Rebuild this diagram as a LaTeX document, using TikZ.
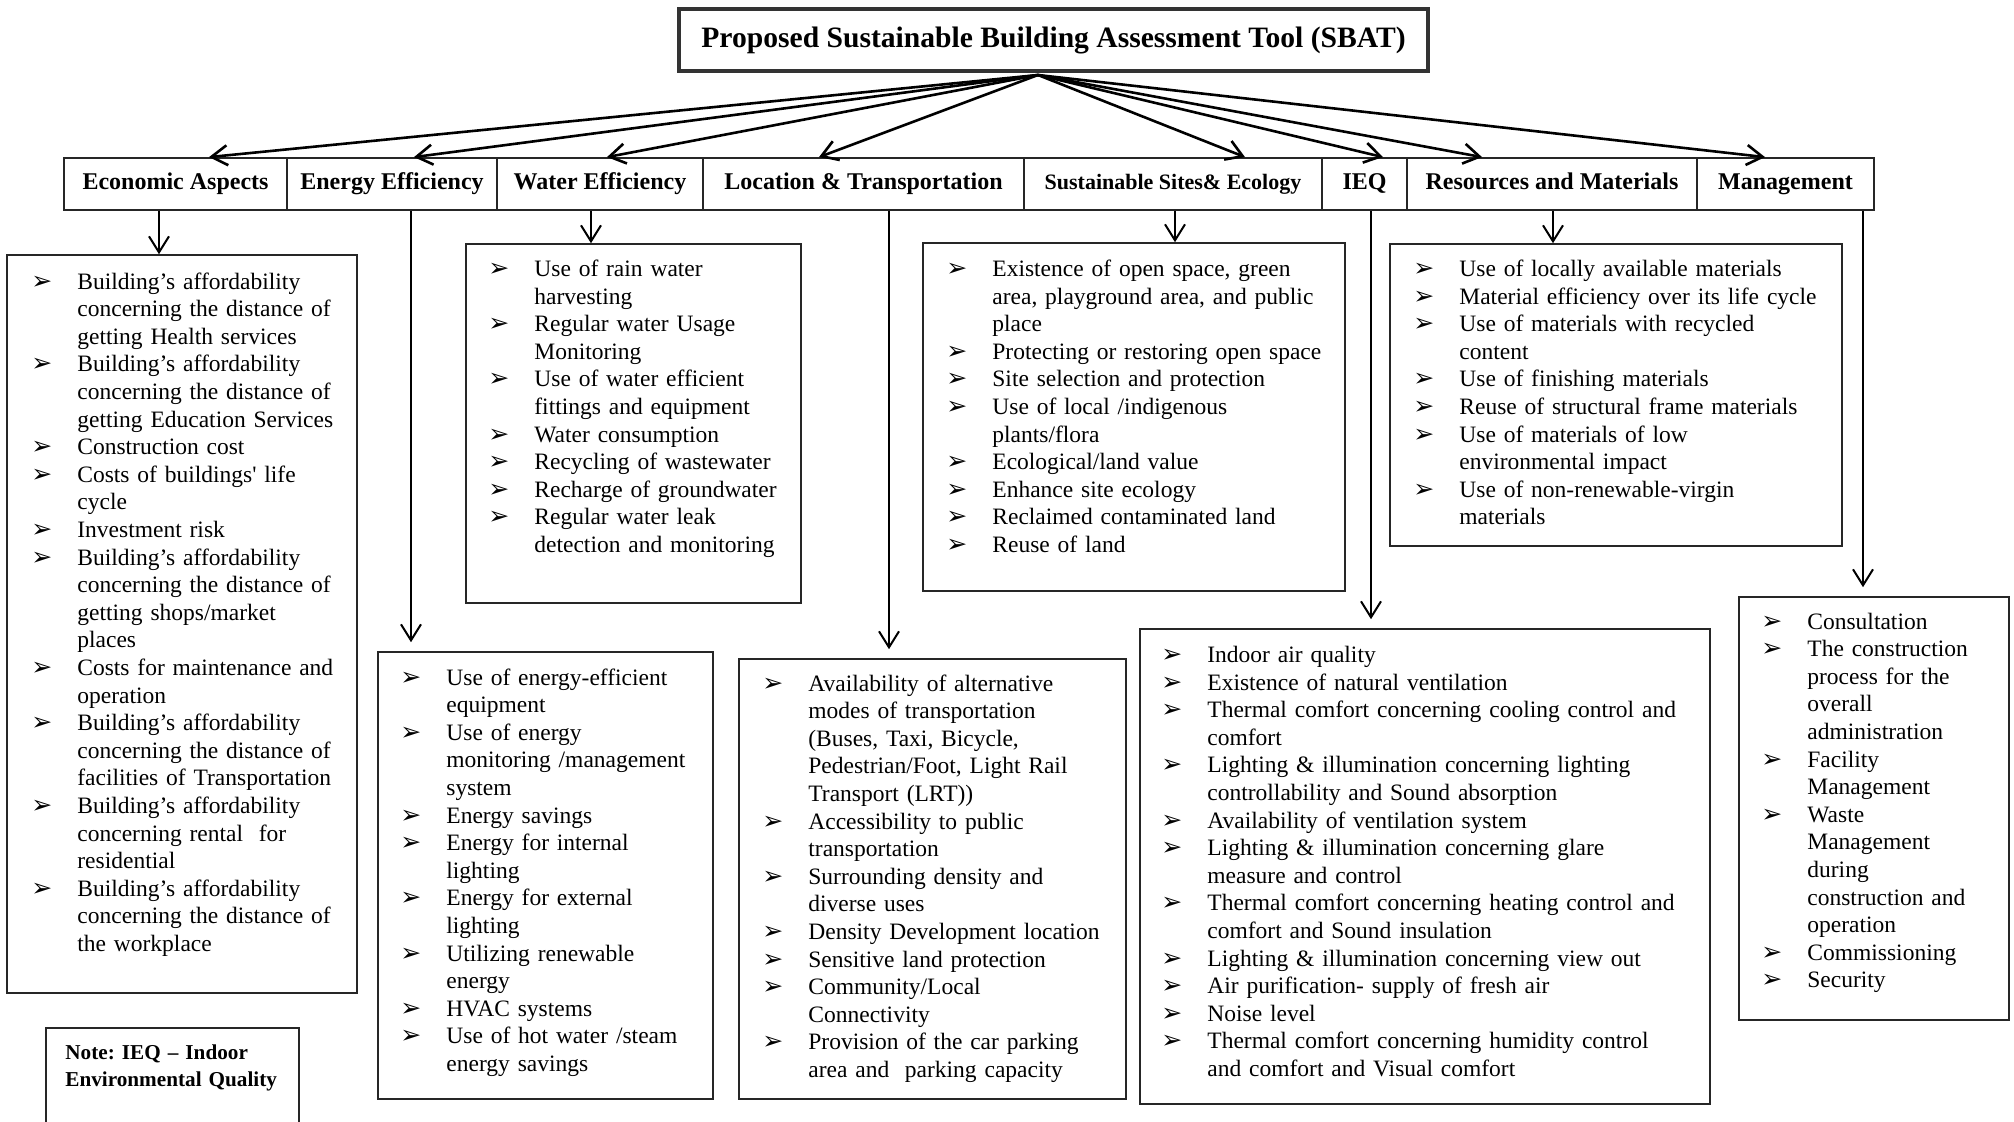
\documentclass[tikz,border=0pt]{standalone}
\usepackage{fontspec}
\setmainfont{Liberation Serif}
\newfontfamily\bulfont{DejaVu Sans}
\usetikzlibrary{arrows.meta,fit}
\frenchspacing

% bullet list helpers: arrowhead bullet with hanging indent
\newlength\itind
\setlength\itind{23pt}
\newcommand\bul{{\bulfont\fontsize{12.5}{12}\selectfont ➢}}
\newcommand\itm[1]{\par\noindent\hangindent=\itind\hangafter=1\makebox[\itind][l]{\bul}\strut#1}

\begin{document}
\begin{tikzpicture}[x=0.5pt,y=-0.5pt,
  hdr/.style={draw=black!85,line width=0.9pt,inner sep=0pt,minimum height=26pt,
    font=\fontsize{12}{13.8}\selectfont\bfseries},
  lbox/.style={draw=black!85,line width=0.8pt,inner sep=0pt},
  ltxt/.style={anchor=north west,inner sep=0pt,text width=300pt,align=left,
    font=\fontsize{11.75}{13.8}\selectfont},
  toparr/.style={line width=1.3pt,-{Straight Barb[length=8pt,width=10pt]}},
  downarr/.style={line width=1pt,-{Straight Barb[length=8pt,width=10pt]}},
  longarr/.style={downarr,shorten >=4.5pt},
]
\useasboundingbox (0,0) rectangle (2014,1121);
\clip (0,0) rectangle (2014,1121);

% title
\node[draw=black!80,line width=2.2pt,minimum width=374.5pt,minimum height=31pt,inner sep=0pt,
  font=\fontsize{14.8}{16}\selectfont\bfseries] (title) at (1053.5,40)
  {Proposed Sustainable Building Assessment Tool (SBAT)};

% category headers
\node[hdr,minimum width=111.5pt] (econH) at (175.5,184) {\strut Economic Aspects};
\node[hdr,minimum width=105pt] (enerH) at (392,184) {\strut Energy Efficiency};
\node[hdr,minimum width=103pt] (waterH) at (600,184) {\strut Water Efficiency};
\node[hdr,minimum width=160.5pt] (locH) at (863.5,184) {\strut Location \& Transportation};
\node[hdr,minimum width=149pt,font=\fontsize{11}{13.8}\selectfont\bfseries] (ssH) at (1173,184) {\strut Sustainable Sites\& Ecology};
\node[hdr,minimum width=42.5pt] (ieqH) at (1364.5,184) {\strut IEQ};
\node[hdr,minimum width=145pt] (resH) at (1552,184) {\strut Resources and Materials};
\node[hdr,minimum width=88.5pt] (mgmtH) at (1785.5,184) {\strut Management};

% criteria boxes
\node[lbox,fit={(7,255) (357,993)}] (econL) {};
\node[lbox,fit={(466,244) (801,603)}] (waterL) {};
\node[lbox,fit={(923,243) (1345,591)}] (ssL) {};
\node[lbox,fit={(1390,244) (1842,546)}] (resL) {};
\node[lbox,fit={(378,652) (713,1099)}] (enerL) {};
\node[lbox,fit={(739,659) (1126,1099)}] (locL) {};
\node[lbox,fit={(1140,629) (1710,1104)}] (ieqL) {};
\node[lbox,fit={(1739,597) (2009,1020)}] (mgmtL) {};
\node[lbox,fit={(46,1028) (299,1160)}] (note) {};

% arrows from the title
\coordinate (apex) at (1038,75);
\draw[toparr] (apex) -- ([xshift=16.75pt]econH.north);
\draw[toparr] (apex) -- ([xshift=11pt]enerH.north);
\draw[toparr] (apex) -- ([xshift=3.5pt]waterH.north);
\draw[toparr] (apex) -- ([xshift=-22.25pt]locH.north);
\draw[toparr] (apex) -- ([xshift=36pt]ssH.north);
\draw[toparr] (apex) -- ([xshift=9.25pt]ieqH.north);
\draw[toparr] (apex) -- ([xshift=-35pt]resH.north);
\draw[toparr] (apex) -- ([xshift=-10.25pt]mgmtH.north);

% arrows from headers to their criteria
\coordinate (xe) at (159,0);
\coordinate (xn) at (411,0);
\coordinate (xw) at (591,0);
\coordinate (xl) at (889,0);
\coordinate (xs) at (1175,0);
\coordinate (xi) at (1371,0);
\coordinate (xr) at (1553,0);
\coordinate (xm) at (1863,0);
\draw[downarr] (econH.south -| xe) -- (econL.north -| xe);
\draw[longarr] (enerH.south -| xn) -- (enerL.north -| xn);
\draw[downarr] (waterH.south -| xw) -- (waterL.north -| xw);
\draw[longarr] (locH.south -| xl) -- (locL.north -| xl);
\draw[downarr] (ssH.south -| xs) -- (ssL.north -| xs);
\draw[longarr] (ieqH.south -| xi) -- (ieqL.north -| xi);
\draw[downarr] (resH.south -| xr) -- (resL.north -| xr);
\draw[longarr] (mgmtH.south -| xm) -- (mgmtL.north -| xm);

% criteria texts
\node[ltxt] (econT) at (31,261) {%
\itm{Building’s affordability\newline concerning the distance of\newline getting Health services}
\itm{Building’s affordability\newline concerning the distance of\newline getting Education Services}
\itm{Construction cost}
\itm{Costs of buildings\textquotesingle{} life\newline cycle}
\itm{Investment risk}
\itm{Building’s affordability\newline concerning the distance of\newline getting shops/market\newline places}
\itm{Costs for maintenance and\newline operation}
\itm{Building’s affordability\newline concerning the distance of\newline facilities of Transportation}
\itm{Building’s affordability\newline concerning rental~ for\newline residential}
\itm{Building’s affordability\newline concerning the distance of\newline the workplace}\par};

\node[ltxt] (waterT) at (488,248.5) {%
\itm{Use of rain water\newline harvesting}
\itm{Regular water Usage\newline Monitoring}
\itm{Use of water efficient\newline fittings and equipment}
\itm{Water consumption}
\itm{Recycling of wastewater}
\itm{Recharge of groundwater}
\itm{Regular water leak\newline detection and monitoring}\par};

\node[ltxt] (ssT) at (946,248.5) {%
\itm{Existence of open space, green\newline area, playground area, and public\newline place}
\itm{Protecting or restoring open space}
\itm{Site selection and protection}
\itm{Use of local /indigenous\newline plants/flora}
\itm{Ecological/land value}
\itm{Enhance site ecology}
\itm{Reclaimed contaminated land}
\itm{Reuse of land}\par};

\node[ltxt] (resT) at (1413,248.5) {%
\itm{Use of locally available materials}
\itm{Material efficiency over its life cycle}
\itm{Use of materials with recycled\newline content}
\itm{Use of finishing materials}
\itm{Reuse of structural frame materials}
\itm{Use of materials of low\newline environmental impact}
\itm{Use of non-renewable-virgin\newline materials}\par};

\node[ltxt] (enerT) at (400,657) {%
\itm{Use of energy-efficient\newline equipment}
\itm{Use of energy\newline monitoring /management\newline system}
\itm{Energy savings}
\itm{Energy for internal\newline lighting}
\itm{Energy for external\newline lighting}
\itm{Utilizing renewable\newline energy}
\itm{HVAC systems}
\itm{Use of hot water /steam\newline energy savings}\par};

\node[ltxt] (locT) at (762,663) {%
\itm{Availability of alternative\newline modes of transportation\newline (Buses, Taxi, Bicycle,\newline Pedestrian/Foot, Light Rail\newline Transport (LRT))}
\itm{Accessibility to public\newline transportation}
\itm{Surrounding density and\newline diverse uses}
\itm{Density Development location}
\itm{Sensitive land protection}
\itm{Community/Local\newline Connectivity}
\itm{Provision of the car parking\newline area and~ parking capacity}\par};

\node[ltxt] (ieqT) at (1161,634.5) {%
\itm{Indoor air quality}
\itm{Existence of natural ventilation}
\itm{Thermal comfort concerning cooling control and\newline comfort}
\itm{Lighting \& illumination concerning lighting\newline controllability and Sound absorption}
\itm{Availability of ventilation system}
\itm{Lighting \& illumination concerning glare\newline measure and control}
\itm{Thermal comfort concerning heating control and\newline comfort and Sound insulation}
\itm{Lighting \& illumination concerning view out}
\itm{Air purification- supply of fresh air}
\itm{Noise level}
\itm{Thermal comfort concerning humidity control\newline and comfort and Visual comfort}\par};

\node[ltxt] (mgmtT) at (1761,601) {%
\itm{Consultation}
\itm{The construction\newline process for the\newline overall\newline administration}
\itm{Facility\newline Management}
\itm{Waste\newline Management\newline during\newline construction and\newline operation}
\itm{Commissioning}
\itm{Security}\par};

% note
\node[anchor=north west,inner sep=0pt,text width=150pt,align=left,
  font=\fontsize{10.6}{13.5}\selectfont\bfseries] (noteT) at (65,1040)
  {\strut Note: IEQ – Indoor\newline Environmental Quality};
\end{tikzpicture}
\end{document}
